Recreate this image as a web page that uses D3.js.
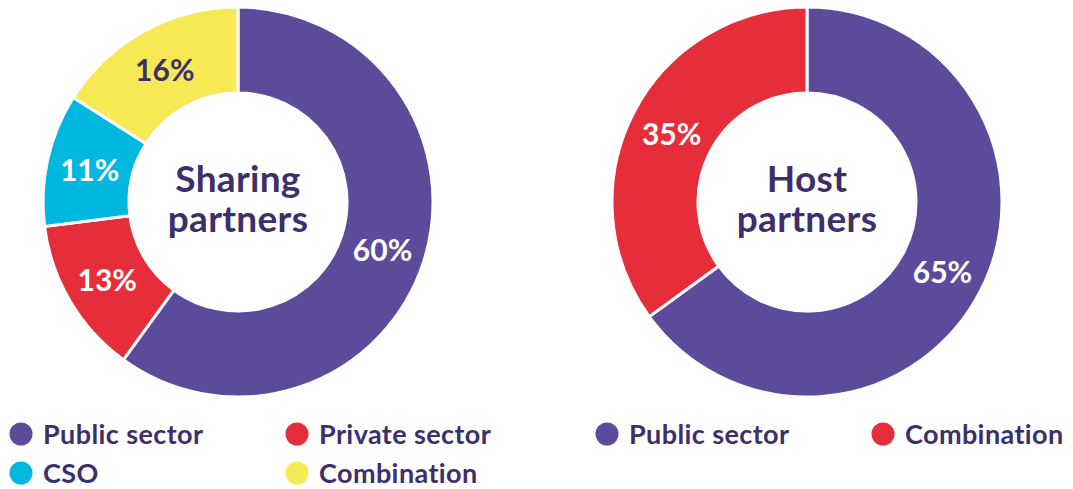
<!DOCTYPE html>
<html><head><meta charset="utf-8">
<script src="https://cdn.jsdelivr.net/npm/d3@7"></script>
<style>body{margin:0;background:#fff}svg{display:block}text{font-family:Lato,"Open Sans",sans-serif;font-weight:700}</style>
</head><body>
<svg id="c" width="1073" height="489"></svg>
<script>
const sharingCategories = ["Public sector","Private sector","CSO","Combination"];
const sharingValues = [60,13,11,16];
const hostCategories = ["Public sector","Combination"];
const hostValues = [65,35];
const colorMap = {"Public sector":"#5c4b9b","Private sector":"#e62e3a","CSO":"#00b8df","Combination":"#f7e954"};
const labelColorMap = {"Public sector":"#fff","Private sector":"#fff","CSO":"#fff","Combination":"#3c2f6b"};
const hostLabelColorMap = {"Public sector":"#fff","Combination":"#fff"};
const hostColorMap = {"Public sector":"#5c4b9b","Combination":"#e62e3a"};
const dark = "#3c2f6b";

const svg = d3.select("#c");
const rO = 195, rI = 109;
const arc = d3.arc().innerRadius(rI).outerRadius(rO);
const pie = d3.pie().sort(null).value(d=>d.v);

function donut(cx, cy, cats, vals, cmap, lmap, title){
  const data = cats.map((c,i)=>({c, v: vals[i]}));
  const g = svg.append("g").attr("transform",`translate(${cx},${cy})`);
  const arcs = pie(data);
  g.selectAll("path").data(arcs).join("path")
    .attr("d",arc).attr("fill",d=>cmap[d.data.c])
    .attr("stroke","#fff").attr("stroke-width",3);
  g.selectAll("text.lab").data(arcs).join("text").attr("class","lab")
    .attr("transform",d=>`translate(${arc.centroid(d)})`)
    .attr("text-anchor","middle").attr("dy","0.4em")
    .attr("font-size",30).attr("fill",d=>lmap[d.data.c])
    .text(d=>d.data.v+"%");
  g.selectAll("text.title").data(title).join("text").attr("class","title")
    .attr("text-anchor","middle").attr("fill",dark).attr("font-size",37).attr("letter-spacing",0.3)
    .attr("x",0).attr("y",(d,i)=>i===0?-10:30).text(d=>d);
}
donut(238,202,sharingCategories,sharingValues,colorMap,labelColorMap,["Sharing","partners"]);
donut(807,202,hostCategories,hostValues,hostColorMap,hostLabelColorMap,["Host","partners"]);

function legend(items, positions, cmap){
  items.forEach((c,i)=>{
    const [x,y] = positions[i];
    const g = svg.append("g").attr("transform",`translate(${x},${y})`);
    g.append("circle").attr("r",11.5).attr("fill",cmap[c]);
    g.append("text").attr("x",22).attr("dy","0.36em").attr("font-size",27).attr("letter-spacing",0.4).attr("fill",dark).text(c);
  });
}
legend(sharingCategories,[[21,434],[297,434],[21,473],[297,473]],colorMap);
legend(hostCategories,[[607,434],[883,434]],hostColorMap);
</script>
</body></html>
